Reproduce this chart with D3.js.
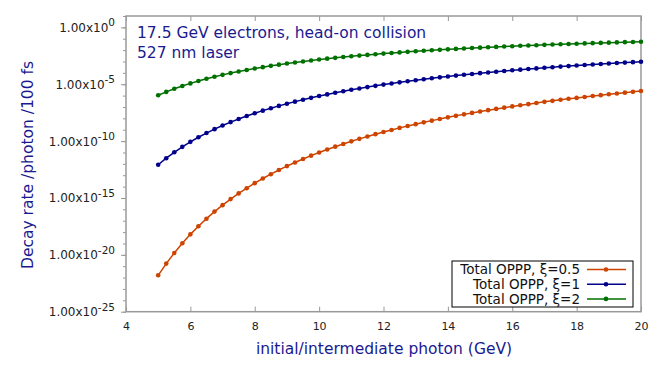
<!DOCTYPE html>
<html lang="en">
<head>
<meta charset="UTF-8">
<title>OPPP decay rate</title>
<script src="https://d3js.org/d3.v7.min.js"></script>
<style>
  body { margin: 0; background: #fff; }
</style>
</head>
<body>
<div id="chart"></div>
<script>
// photon energy (GeV)
const energy = d3.range(61).map(i => 5 + i * 0.25);

// decay rate /photon /100 fs
const xi05 = [1.58e-22, 1.70e-21, 1.45e-20, 1.05e-19, 6.31e-19, 3.31e-18, 1.51e-17, 6.31e-17, 2.34e-16, 7.94e-16,
  2.51e-15, 7.24e-15, 2.0e-14, 5.13e-14, 1.23e-13, 2.88e-13, 6.31e-13, 1.32e-12, 2.69e-12, 5.25e-12,
  1.0e-11, 1.82e-11, 3.24e-11, 5.62e-11, 9.55e-11, 1.58e-10, 2.57e-10, 4.07e-10, 6.31e-10, 9.55e-10,
  1.45e-9, 2.14e-9, 3.09e-9, 4.47e-9, 6.31e-9, 8.91e-9, 1.23e-8, 1.66e-8, 2.24e-8, 3.02e-8,
  3.98e-8, 5.25e-8, 6.76e-8, 8.71e-8, 1.12e-7, 1.41e-7, 1.78e-7, 2.24e-7, 2.82e-7, 3.47e-7,
  4.27e-7, 5.25e-7, 6.31e-7, 7.59e-7, 9.12e-7, 1.10e-6, 1.32e-6, 1.55e-6, 1.82e-6, 2.14e-6, 2.51e-6];

const xi1 = [8.32e-13, 3.13e-12, 1.04e-11, 3.13e-11, 8.57e-11, 2.17e-10, 5.11e-10, 1.13e-9, 2.35e-9, 4.67e-9,
  8.85e-9, 1.61e-8, 2.82e-8, 4.78e-8, 7.83e-8, 1.25e-7, 1.95e-7, 2.95e-7, 4.39e-7, 6.38e-7,
  9.12e-7, 1.28e-6, 1.77e-6, 2.40e-6, 3.23e-6, 4.28e-6, 5.60e-6, 7.24e-6, 9.27e-6, 1.17e-5,
  1.47e-5, 1.83e-5, 2.26e-5, 2.77e-5, 3.36e-5, 4.05e-5, 4.85e-5, 5.77e-5, 6.82e-5, 8.04e-5,
  9.40e-5, 1.09e-4, 1.27e-4, 1.46e-4, 1.68e-4, 1.92e-4, 2.18e-4, 2.48e-4, 2.80e-4, 3.15e-4,
  3.54e-4, 3.95e-4, 4.41e-4, 4.90e-4, 5.43e-4, 6.01e-4, 6.62e-4, 7.28e-4, 8.00e-4, 8.75e-4, 9.55e-4];

const xi2 = [1.07e-6, 2.13e-6, 3.99e-6, 7.06e-6, 1.19e-5, 1.93e-5, 3.01e-5, 4.55e-5, 6.67e-5, 9.53e-5,
  1.33e-4, 1.81e-4, 2.43e-4, 3.19e-4, 4.13e-4, 5.26e-4, 6.62e-4, 8.22e-4, 1.01e-3, 1.23e-3,
  1.48e-3, 1.77e-3, 2.09e-3, 2.45e-3, 2.85e-3, 3.30e-3, 3.80e-3, 4.35e-3, 4.93e-3, 5.58e-3,
  6.28e-3, 7.03e-3, 7.85e-3, 8.71e-3, 9.64e-3, 1.06e-2, 1.17e-2, 1.28e-2, 1.39e-2, 1.52e-2,
  1.65e-2, 1.78e-2, 1.92e-2, 2.07e-2, 2.22e-2, 2.39e-2, 2.55e-2, 2.72e-2, 2.90e-2, 3.09e-2,
  3.28e-2, 3.48e-2, 3.68e-2, 3.88e-2, 4.10e-2, 4.32e-2, 4.54e-2, 4.78e-2, 5.01e-2, 5.25e-2, 5.50e-2];

const seriesNames = ["Total OPPP, \u03be=0.5", "Total OPPP, \u03be=1", "Total OPPP, \u03be=2"];
const seriesColors = ["#cc4400", "#00008b", "#007000"];
const xTicks = [4, 6, 8, 10, 12, 14, 16, 18, 20];
const yMajorExp = [0, -5, -10, -15, -20, -25];

const width = 664, height = 369;
const plotL = 126, plotR = 641, plotT = 16, plotB = 311.7;
const navy = "#1a1a90";

const svg = d3.select("#chart").append("svg")
  .attr("width", width)
  .attr("height", height)
  .style("font-family", "'DejaVu Sans', sans-serif");

const x = d3.scaleLinear().domain([4, 20]).range([plotL, plotR]);
const y = d3.scaleLog().domain([1e-25, 1e1]).range([plotB, plotT]);

// x axis, ticks pointing inward
svg.append("g")
  .attr("transform", `translate(0, ${plotB})`)
  .call(d3.axisBottom(x).tickValues(xTicks).tickSize(-5).tickPadding(11))
  .call(g => g.select(".domain").remove())
  .call(g => g.selectAll("line").attr("stroke", "#999"))
  .call(g => g.selectAll("text").attr("font-size", 11).attr("fill", "#222")
    .attr("font-family", "'DejaVu Sans', sans-serif"));

svg.append("g")
  .attr("transform", `translate(0, ${plotT})`)
  .call(d3.axisTop(x).tickValues(xTicks).tickSize(-5).tickFormat(""))
  .call(g => g.select(".domain").remove())
  .call(g => g.selectAll("line").attr("stroke", "#999"));

// y axis: minor ticks every decade, labels every 5 decades
svg.append("g")
  .attr("transform", `translate(${plotL}, 0)`)
  .call(d3.axisLeft(y).tickValues(d3.range(-25, 2).map(e => Math.pow(10, e))).tickSize(3).tickFormat(""))
  .call(g => g.select(".domain").remove())
  .call(g => g.selectAll("line").attr("stroke", "#999"));

svg.append("g")
  .attr("transform", `translate(${plotL}, 0)`)
  .call(d3.axisLeft(y).tickValues(yMajorExp.map(e => Math.pow(10, e))).tickSize(5).tickFormat(""))
  .call(g => g.select(".domain").remove())
  .call(g => g.selectAll("line").attr("stroke", "#999"));

yMajorExp.forEach(e => {
  const t = svg.append("text")
    .attr("x", 115)
    .attr("y", y(Math.pow(10, e)) + 4.5)
    .attr("text-anchor", "end")
    .attr("font-size", 12)
    .attr("fill", "#222");
  t.append("tspan").text("1.00x10");
  t.append("tspan").attr("dy", -5.5).attr("font-size", 10.5).text(e);
});

// frame
svg.append("rect")
  .attr("x", plotL).attr("y", plotT)
  .attr("width", plotR - plotL).attr("height", plotB - plotT)
  .attr("fill", "none")
  .attr("stroke", "#999")
  .attr("stroke-width", 1.5);

// axis titles
svg.append("text")
  .attr("x", 384).attr("y", 354)
  .attr("text-anchor", "middle")
  .attr("font-size", 15.5)
  .attr("fill", navy)
  .text("initial/intermediate photon (GeV)");

svg.append("text")
  .attr("transform", "translate(33, 165) rotate(-90)")
  .attr("text-anchor", "middle")
  .attr("font-size", 15.5)
  .attr("fill", navy)
  .text("Decay rate /photon /100 fs");

svg.append("text")
  .attr("x", 137).attr("y", 38)
  .attr("font-size", 15.5)
  .attr("fill", navy)
  .text("17.5 GeV electrons, head-on collision");

svg.append("text")
  .attr("x", 137).attr("y", 58)
  .attr("font-size", 15.5)
  .attr("fill", navy)
  .text("527 nm laser");

// curves
const line = d3.line()
  .x(d => x(d[0]))
  .y(d => y(d[1]));

[xi05, xi1, xi2].forEach((vals, i) => {
  const pts = energy.map((e, j) => [e, vals[j]]);
  svg.append("path")
    .datum(pts)
    .attr("fill", "none")
    .attr("stroke", seriesColors[i])
    .attr("stroke-width", 1.5)
    .attr("d", line);
  svg.append("g")
    .selectAll("circle")
    .data(pts)
    .join("circle")
    .attr("cx", d => x(d[0]))
    .attr("cy", d => y(d[1]))
    .attr("r", 2.3)
    .attr("fill", seriesColors[i]);
});

// legend
const legend = svg.append("g");
legend.append("rect")
  .attr("x", 452).attr("y", 261)
  .attr("width", 181).attr("height", 46)
  .attr("fill", "#fff")
  .attr("stroke", "#000")
  .attr("stroke-width", 1);

seriesNames.forEach((name, i) => {
  const cy = 269.5 + i * 14.7;
  legend.append("text")
    .attr("x", 580).attr("y", cy + 4.7)
    .attr("text-anchor", "end")
    .attr("font-size", 13.5)
    .attr("fill", "#111")
    .text(name);
  legend.append("line")
    .attr("x1", 587).attr("x2", 626)
    .attr("y1", cy).attr("y2", cy)
    .attr("stroke", seriesColors[i])
    .attr("stroke-width", 1.5);
  legend.append("circle")
    .attr("cx", 606).attr("cy", cy)
    .attr("r", 2.3)
    .attr("fill", seriesColors[i]);
});
</script>
</body>
</html>
